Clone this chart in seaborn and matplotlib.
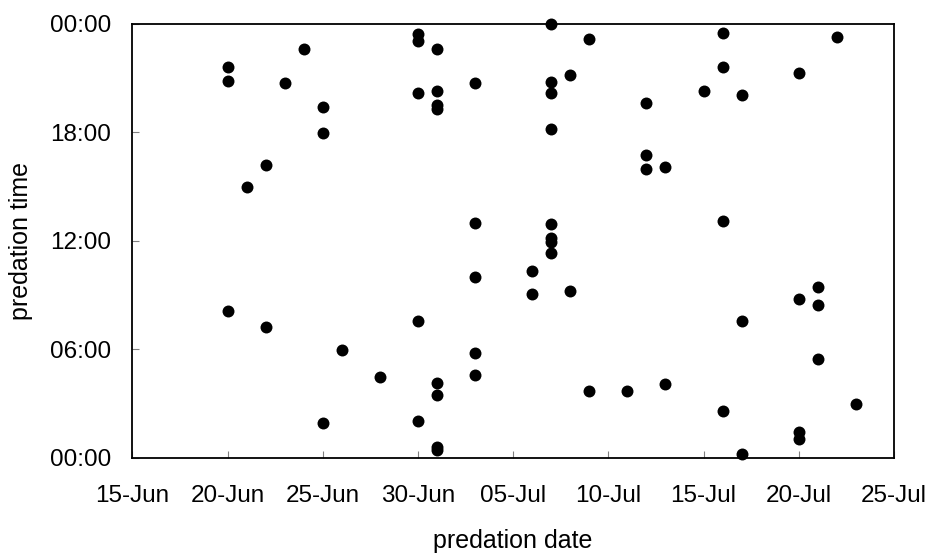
import matplotlib
matplotlib.use("Agg")
import matplotlib.pyplot as plt
import matplotlib.dates as mdates
from matplotlib.ticker import FixedLocator
import seaborn as sns
import pandas as pd

# ---- data ----
dates = [
    "2009-06-20", "2009-06-20", "2009-06-20",
    "2009-06-21",
    "2009-06-22", "2009-06-22",
    "2009-06-23",
    "2009-06-24",
    "2009-06-25", "2009-06-25", "2009-06-25",
    "2009-06-26",
    "2009-06-28",
    "2009-06-30", "2009-06-30", "2009-06-30", "2009-06-30", "2009-06-30",
    "2009-07-01", "2009-07-01", "2009-07-01", "2009-07-01", "2009-07-01", "2009-07-01", "2009-07-01", "2009-07-01",
    "2009-07-03", "2009-07-03", "2009-07-03", "2009-07-03", "2009-07-03",
    "2009-07-06", "2009-07-06",
    "2009-07-07", "2009-07-07", "2009-07-07", "2009-07-07", "2009-07-07", "2009-07-07", "2009-07-07", "2009-07-07",
    "2009-07-08", "2009-07-08",
    "2009-07-09", "2009-07-09",
    "2009-07-11",
    "2009-07-12", "2009-07-12", "2009-07-12",
    "2009-07-13", "2009-07-13",
    "2009-07-15",
    "2009-07-16", "2009-07-16", "2009-07-16", "2009-07-16",
    "2009-07-17", "2009-07-17", "2009-07-17",
    "2009-07-20", "2009-07-20", "2009-07-20", "2009-07-20",
    "2009-07-21", "2009-07-21", "2009-07-21",
    "2009-07-22",
    "2009-07-23",
]
times = [
    "21:38", "20:52", "08:08",
    "15:00",
    "16:13", "07:15",
    "20:45",
    "22:37",
    "19:25", "17:58", "01:56",
    "05:56",
    "04:29",
    "23:26", "23:04", "20:12", "07:35", "02:03",
    "22:37", "20:19", "19:31", "19:17", "04:09", "03:29", "00:37", "00:26",
    "20:45", "13:00", "10:01", "05:49", "04:35",
    "10:21", "09:02",
    "24:00", "20:46", "20:11", "18:11", "12:55", "12:08", "11:57", "11:21",
    "21:12", "09:14",
    "23:10", "03:43",
    "03:43",
    "19:38", "16:46", "15:59",
    "16:06", "04:04",
    "20:19",
    "23:30", "21:37", "13:07", "02:36",
    "20:04", "07:35", "00:11",
    "21:17", "08:48", "01:25", "01:03",
    "09:28", "08:28", "05:29",
    "23:17",
    "02:58",
]
x_tick_dates = ["2009-06-15", "2009-06-20", "2009-06-25", "2009-06-30", "2009-07-05",
                "2009-07-10", "2009-07-15", "2009-07-20", "2009-07-25"]
y_tick_hours = [0, 6, 12, 18, 24]
y_tick_labels = ["00:00", "06:00", "12:00", "18:00", "00:00"]

# ---- build table ----
def to_hours(s):
    h, m = s.split(":")
    return int(h) + int(m) / 60.0

df = pd.DataFrame({
    "predation date": pd.to_datetime(dates),
    "predation time": [to_hours(t) for t in times],
})

sns.set_style("white")
plt.rcParams["font.family"] = ["Liberation Sans", "DejaVu Sans"]

fig = plt.figure(figsize=(9.29, 5.56), dpi=100)
ax = fig.add_axes([132.3 / 929, 1 - 457.7 / 556, (894 - 132.3) / 929, (457.7 - 24) / 556])

sns.scatterplot(data=df, x="predation date", y="predation time", ax=ax,
                color="black", s=74, edgecolor="black", linewidth=0, clip_on=False, zorder=3)

xt = pd.to_datetime(x_tick_dates)
ax.set_xlim(xt[0], xt[-1])
ax.set_xticks(xt)
ax.xaxis.set_major_formatter(mdates.DateFormatter("%d-%b"))
ax.set_ylim(0, 24)
ax.yaxis.set_major_locator(FixedLocator(y_tick_hours))
ax.set_yticklabels(y_tick_labels)

for sp in ax.spines.values():
    sp.set_color("black")
    sp.set_linewidth(1.3)
    sp.set_visible(True)

ax.tick_params(axis="both", direction="in", length=5, width=0.8, color="#808080",
               labelsize=17.5, labelcolor="black")
ax.tick_params(axis="x", pad=20, bottom=True)
ax.tick_params(axis="y", pad=15, left=True)

ax.set_xlabel("predation date", fontsize=18, color="black")
ax.set_ylabel("predation time", fontsize=18, color="black")
ax.xaxis.set_label_coords(0.5, -0.164)
ax.yaxis.set_label_coords(-0.130, 0.5)
ax.grid(False)

fig.savefig("out.png", dpi=100)
